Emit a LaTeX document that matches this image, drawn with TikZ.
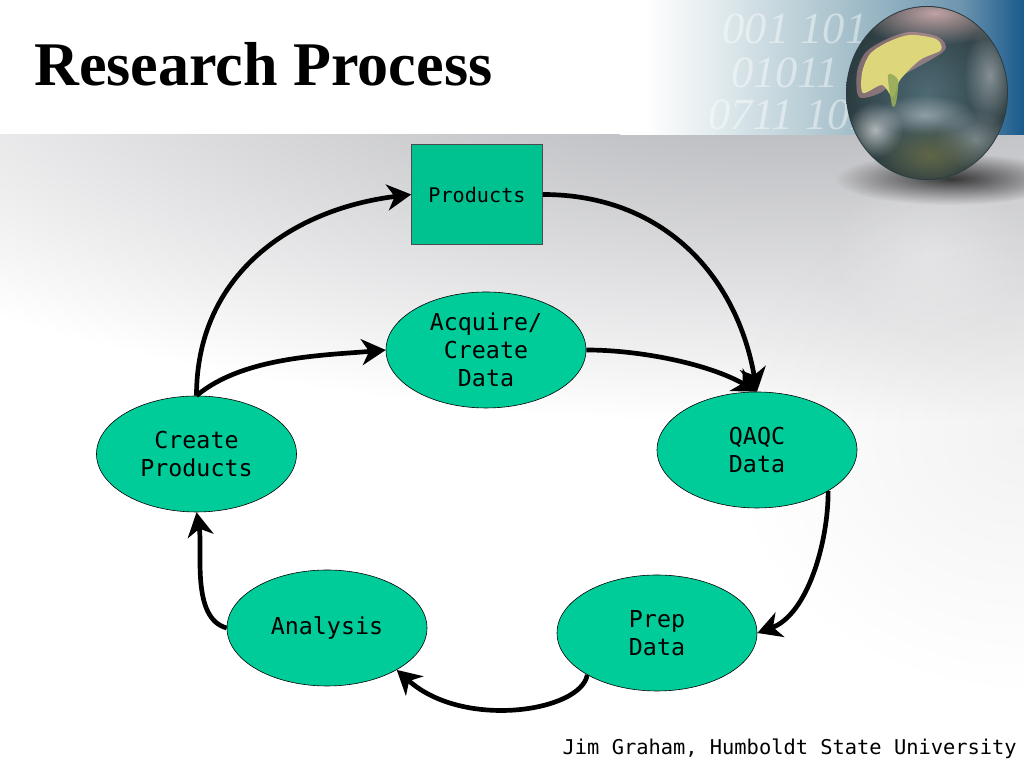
\documentclass[tikz,border=0pt]{standalone}
\usepackage{fontspec}
\setmainfont{Liberation Serif}
\setmonofont{DejaVu Sans Mono}
\usetikzlibrary{arrows.meta,shapes.geometric,fadings}

\definecolor{stagegreen}{RGB}{0,204,153}
\definecolor{floorgray}{RGB}{170,171,176}
\definecolor{bandb}{RGB}{225,235,238}
\definecolor{bandc}{RGB}{170,195,205}
\definecolor{bandd}{RGB}{110,150,175}
\definecolor{bande}{RGB}{25,90,140}
\definecolor{seaslate}{RGB}{78,106,116}
\definecolor{searim}{RGB}{44,60,64}
\definecolor{landyellow}{RGB}{222,214,122}
\definecolor{landgreen}{RGB}{150,170,90}
\definecolor{landolive}{RGB}{98,104,70}
\pgfdeclarehorizontalshading{bandshade}{100bp}{
	color(0bp)=(white);
	color(28bp)=(white);
	color(37bp)=(bandb);
	color(52bp)=(bandc);
	color(67bp)=(bandd);
	color(75bp)=(bande);
	color(100bp)=(bande)}
\tikzfading[name=softspot,inner color=transparent!0,outer color=transparent!100]

\tikzset{
	stage/.style={ellipse,draw=black,line width=0.5pt,fill=stagegreen,minimum width=6cm,minimum height=3.48cm,
		inner sep=0pt,align=center,font=\ttfamily\fontsize{19.9}{23.9}\selectfont},
	productbox/.style={rectangle,draw=black!70,line width=0.5pt,fill=stagegreen!95!black,minimum width=3.93cm,minimum height=3cm,
		inner sep=0pt,font=\ttfamily\fontsize{17.2}{20}\selectfont},
	flow/.style={-{Stealth[length=0.72cm,width=0.78cm,inset=0.22cm]},line width=4pt,black},
	digits/.style={white,opacity=0.45,inner sep=0pt,font=\rmfamily\itshape\fontsize{38}{38}\selectfont},
	cloud/.style={path fading=softspot}
}

\begin{document}
\begin{tikzpicture}[x=0.03cm,y=0.03cm]
	\useasboundingbox (0,0) rectangle (1024,765);
	\fill[white] (0,0) rectangle (1024,765);
	% floor
	\begin{scope}
		\clip (0,0) rectangle (1024,630);
		\shade[inner color=floorgray,outer color=white] (800,725) ellipse (1150 and 385);
		\fill[black,opacity=0.05,cloud] (1024,330) ellipse (300 and 260);
	\end{scope}
	% top band
	\shade[shading=bandshade] (620,630) rectangle (1024,765);
	\node[digits] (rowa) at (795,736) {001 101};
	\node[digits] (rowb) at (785,692) {01011};
	\node[digits] (rowc) at (790,650) {0711 101};
	% globe
	\fill[black,opacity=0.75,cloud] (950,586) ellipse (115 and 26);
	\fill[white,opacity=0.3,cloud] (930,510) ellipse (100 and 85);
	\shade[inner color=seaslate,outer color=searim] (927,672) ellipse (81 and 87);
	\begin{scope}
		\clip (927,672) ellipse (80 and 86);
		\fill[white!80!red,opacity=0.7,cloud] (935,752) ellipse (85 and 32);
		\fill[white,opacity=0.4,cloud] (990,690) ellipse (26 and 50);
		\fill[white,opacity=0.35,cloud] (975,625) ellipse (40 and 30);
		\fill[white,opacity=0.4,cloud] (925,650) ellipse (50 and 20);
		\fill[white,opacity=0.6,cloud] (875,635) ellipse (28 and 28);
		\fill[red!30!white,opacity=0.4] plot[smooth cycle] coordinates {(859,668) (857,693) (866,713) (887,726) (910,733) (938,728) (944,714) (900,688) (880,672)};
		\fill[landyellow] plot[smooth cycle] coordinates {(863,672) (862,692) (870,711) (888,723) (910,730) (936,726) (941,715) (920,705) (900,685) (893,668) (882,680)};
		\fill[landgreen,opacity=0.9] plot[smooth cycle] coordinates {(888,690) (898,685) (896,662) (892,660)};
		\fill[landolive,opacity=0.95,cloud] (930,610) ellipse (55 and 32);
	\end{scope}
	% nodes
	\node[productbox] (products) at (477,570.5) {Products};
	\node[stage] (acquire) at (486,415) {Acquire/\\Create\\Data};
	\node[stage] (qaqc) at (757,315) {QAQC\\Data};
	\node[stage] (prep) at (657,132) {Prep\\Data};
	\node[stage] (analysis) at (327,137) {Analysis};
	\node[stage] (create) at (196.5,311) {Create\\Products};
	% arrows
	\draw[flow] (create.north) to[out=90,in=187,looseness=1.05] (products.west);
	\draw[flow] (create.north) to[out=40,in=185,looseness=0.8] (acquire.west);
	\draw[flow] (products.east) to[out=0,in=100,looseness=1.05] (qaqc.north);
	\draw[flow] (acquire.east) to[out=0,in=150,looseness=0.8] (qaqc.north);
	\draw[flow] (qaqc.-30) to[out=-90,in=20,looseness=0.85] (prep.east);
	\draw[flow] (prep.211) to[out=-100,in=-42,out looseness=0.5,in looseness=1.2] (analysis.-31);
	\draw[flow] (analysis.west) to[out=165,in=-80,looseness=0.8] (create.south);
	% title and credit
	\node[anchor=west,inner sep=0pt,font=\bfseries\fontsize{53}{58}\selectfont] (title) at (34,701) {Research Process};
	\node[anchor=east,inner sep=0pt,font=\ttfamily\fontsize{17.4}{20}\selectfont] (credit) at (1017,16) {Jim Graham, Humboldt State University};
\end{tikzpicture}
\end{document}
